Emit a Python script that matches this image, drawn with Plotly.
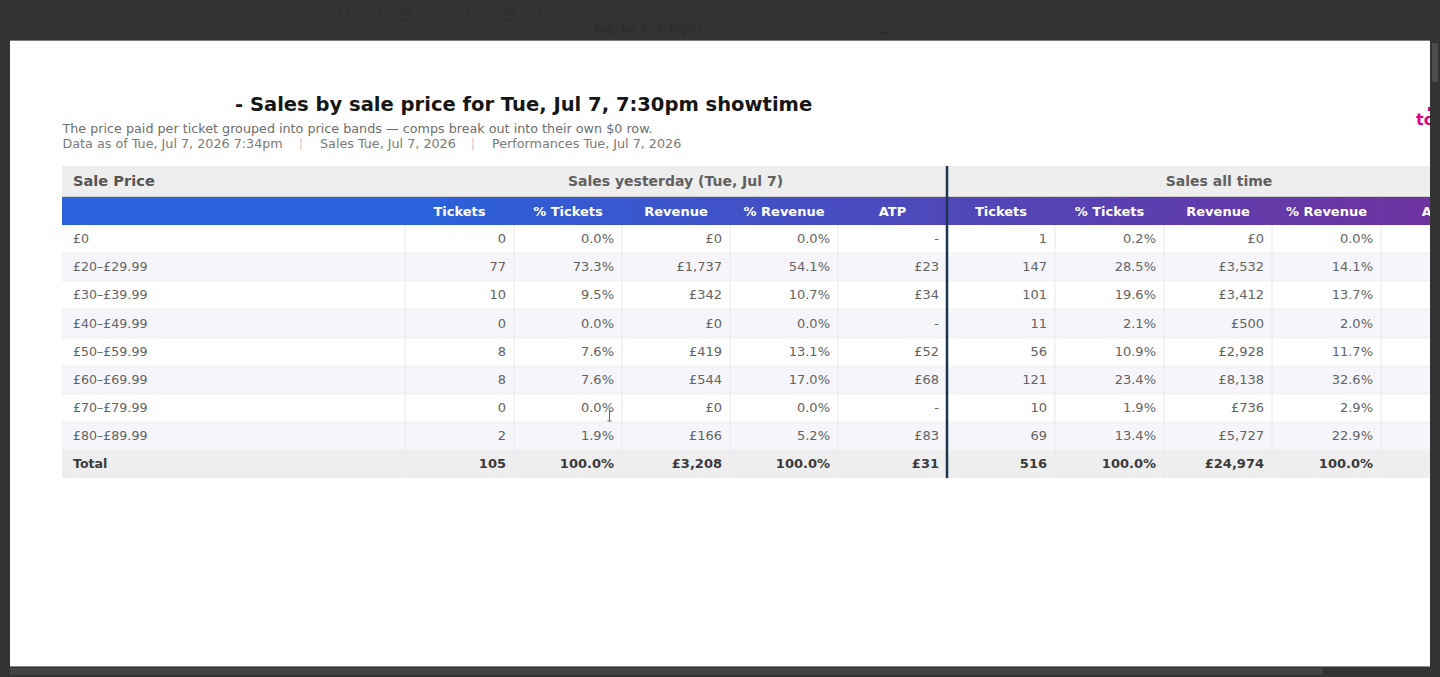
import plotly.graph_objects as go

price_bands = ["£0", "£20–£29.99", "£30–£39.99", "£40–£49.99", "£50–£59.99",
               "£60–£69.99", "£70–£79.99", "£80–£89.99", "Total"]
yest_tickets = ["0", "77", "10", "0", "8", "8", "0", "2", "105"]
yest_pct_tickets = ["0.0%", "73.3%", "9.5%", "0.0%", "7.6%", "7.6%", "0.0%", "1.9%", "100.0%"]
yest_revenue = ["£0", "£1,737", "£342", "£0", "£419", "£544", "£0", "£166", "£3,208"]
yest_pct_revenue = ["0.0%", "54.1%", "10.7%", "0.0%", "13.1%", "17.0%", "0.0%", "5.2%", "100.0%"]
yest_atp = ["-", "£23", "£34", "-", "£52", "£68", "-", "£83", "£31"]
all_tickets = ["1", "147", "101", "11", "56", "121", "10", "69", "516"]
all_pct_tickets = ["0.2%", "28.5%", "19.6%", "2.1%", "10.9%", "23.4%", "1.9%", "13.4%", "100.0%"]
all_revenue = ["£0", "£3,532", "£3,412", "£500", "£2,928", "£8,138", "£736", "£5,727", "£24,974"]
all_pct_revenue = ["0.0%", "14.1%", "13.7%", "2.0%", "11.7%", "32.6%", "2.9%", "22.9%", "100.0%"]
sub_headers = ["", "Tickets", "% Tickets", "Revenue", "% Revenue", "ATP",
               "Tickets", "% Tickets", "Revenue", "% Revenue", "ATP"]
value_columns = [yest_tickets, yest_pct_tickets, yest_revenue, yest_pct_revenue, yest_atp,
                 all_tickets, all_pct_tickets, all_revenue, all_pct_revenue]

title = "- Sales by sale price for Tue, Jul 7, 7:30pm showtime"
subtitle = "The price paid per ticket grouped into price bands — comps break out into their own $0 row."
meta_items = ["Data as of Tue, Jul 7, 2026 7:34pm", "Sales Tue, Jul 7, 2026", "Performances Tue, Jul 7, 2026"]

# page geometry, the axes run in screen pixels of the white panel
W, H = 1440, 677
PANEL = (10, 1430, 41, 666)
col_edges = [62, 405, 514, 622, 730, 838, 947, 1055, 1164, 1272, 1381, 1490]
row_edges = [225, 253, 281, 309, 338, 366, 394, 422, 450, 478]
col_mid = [(a + b) / 2 for a, b in zip(col_edges, col_edges[1:])]
row_mid = [(a + b) / 2 + 1 for a, b in zip(row_edges, row_edges[1:])]

FONT = "DejaVu Sans"
BG = "#333333"
TEXT = "#636363"

fig = go.Figure()


def add_text(x, y, text, pos, size, color, weight="normal"):
    fig.add_trace(go.Scatter(
        x=x, y=y, text=text, mode="text", textposition=pos, hoverinfo="skip",
        textfont=dict(family=FONT, size=size, color=color, weight=weight),
        showlegend=False, cliponaxis=True))


# grey band, striped rows and the total row
fig.add_trace(go.Heatmap(
    x=col_edges, y=[166, 196, 197, 225] + row_edges[1:],
    z=[[0] * 11, [1] * 11, [0] * 11] + [[2 if i % 2 else 1] * 11 for i in range(8)] + [[0] * 11],
    zmin=0, zmax=2, showscale=False, hoverinfo="skip",
    colorscale=[[0, "#eeeeee"], [0.5, "#ffffff"], [1, "#f6f6fa"]]))

# header gradient, flat over the label column and then running to the right
fig.add_trace(go.Heatmap(
    x=col_edges, y=[197, 211, 225], z=[col_mid, col_mid], zmin=405, zmax=1490,
    zsmooth="best", showscale=False, hoverinfo="skip",
    colorscale=[[0, "#2a62dc"], [0.5, "#4f47b9"], [1, "#72309c"]]))

shapes = []
# cell borders
for x in col_edges[1:-1]:
    if x != 947:
        shapes.append(dict(type="line", x0=x, x1=x, y0=225, y1=478, xref="x", yref="y",
                           line=dict(color="#e8e8ec", width=1)))
for y in row_edges[1:-1]:
    shapes.append(dict(type="line", x0=62, x1=1430, y0=y, y1=y, xref="x", yref="y",
                       line=dict(color="#efeff3", width=1)))
shapes.append(dict(type="line", x0=62, x1=1430, y0=196.5, y1=196.5, xref="x", yref="y",
                   line=dict(color="#cfcfcf", width=1)))
shapes.append(dict(type="line", x0=947, x1=947, y0=166, y1=478, xref="x", yref="y",
                   line=dict(color="#1e3550", width=2.5)))
# text cursor left in the screenshot
shapes.append(dict(type="line", x0=609.5, x1=609.5, y0=410, y1=421, xref="x", yref="y",
                   line=dict(color="#666666", width=1)))
shapes.append(dict(type="line", x0=607.5, x1=611.5, y0=421, y1=421, xref="x", yref="y",
                   line=dict(color="#666666", width=1)))
# clipped logo dot
shapes.append(dict(type="rect", x0=1428, x1=1431, y0=107, y1=111, xref="x", yref="y",
                   line=dict(width=0), fillcolor="#e0007f"))


def px(x):
    return x / W


def py(y):
    return 1 - y / H


# scrollbars around the panel
shapes.append(dict(type="rect", xref="paper", yref="paper", x0=px(10), x1=px(1323), y0=py(675), y1=py(668),
                   line=dict(width=0), fillcolor="#434545"))
shapes.append(dict(type="rect", xref="paper", yref="paper", x0=px(1432), x1=px(1438), y0=py(82), y1=py(43),
                   line=dict(width=0), fillcolor="#4b4e4d"))
# dim toolbar behind the modal
for x in [344, 377, 405, 442, 471, 509, 537]:
    shapes.append(dict(type="rect", xref="paper", yref="paper", x0=px(x - 4), x1=px(x + 4), y0=py(20), y1=py(11),
                       line=dict(color="#2d2d2d", width=1), fillcolor="rgba(0,0,0,0)"))
shapes.append(dict(type="line", xref="paper", yref="paper", x0=px(562), x1=px(562), y0=py(19), y1=py(12),
                   line=dict(color="#2d2d2d", width=1)))
for x in [330, 1098]:
    shapes.append(dict(type="line", xref="paper", yref="paper", x0=px(x), x1=px(x), y0=py(41), y1=1,
                       line=dict(color="#303030", width=1)))
shapes.append(dict(type="path", xref="paper", yref="paper",
                   path=f"M {px(876)} {py(30)} Q {px(883)} {py(37)} {px(890)} {py(30)}",
                   line=dict(color="#262626", width=1)))
# panel edge
shapes.append(dict(type="line", xref="paper", yref="paper", x0=px(10), x1=px(1430), y0=py(40.5), y1=py(40.5),
                   line=dict(color="#7a7a7a", width=1)))
shapes.append(dict(type="line", xref="paper", yref="paper", x0=px(10), x1=px(1430), y0=py(666.5), y1=py(666.5),
                   line=dict(color="#8a8a8a", width=1)))

# headline block
add_text([235], [106], [title], "middle right", 19.55, "#161616", "bold")
add_text([62.5], [130], [subtitle], "middle right", 12.74, "#6e6e6e")
add_text([62.5, 320, 492], [145, 145, 145], meta_items, "middle right", 12.74, "#7a7a7a")
add_text([301, 473], [145, 145], ["|", "|"], "middle center", 12.74, "#c8c8c8")
add_text([1416], [121], ["to"], "middle right", 16, "#e0007f", "bold")

# group header row
add_text([73], [182], ["Sale Price"], "middle right", 14.6, "#555555", "bold")
add_text([675.5, 1219], [182, 182], ["Sales yesterday (Tue, Jul 7)", "Sales all time"],
         "middle center", 14, "#606060", "bold")

# blue header labels
add_text(col_mid[1:], [212.5] * 10, sub_headers[1:], "middle center", 13, "#ffffff", "bold")

# body
add_text([73] * 8, row_mid[:8], price_bands[:8], "middle right", 12.6, TEXT)
add_text([73], row_mid[8:], price_bands[8:], "middle right", 12.6, "#3a3a3a", "bold")
for i, values in enumerate(value_columns):
    right = col_edges[i + 2] - 8
    add_text([right] * 8, row_mid[:8], values[:8], "middle left", 13, TEXT)
    add_text([right], row_mid[8:], values[8:], "middle left", 13, "#3a3a3a", "bold")

fig.update_layout(
    width=W, height=H, margin=dict(l=0, r=0, t=0, b=0),
    paper_bgcolor=BG, plot_bgcolor="#ffffff", showlegend=False,
    shapes=shapes,
    annotations=[dict(text="Tue, Jul 7, 7:30pm", x=px(646), y=py(29), xref="paper", yref="paper",
                      yanchor="middle", showarrow=False,
                      font=dict(family=FONT, size=12, color="#2b2b2b"))],
    xaxis=dict(range=[PANEL[0], PANEL[1]], domain=[px(PANEL[0]), px(PANEL[1])], visible=False, fixedrange=True),
    yaxis=dict(range=[PANEL[3], PANEL[2]], domain=[py(PANEL[3]), py(PANEL[2])], visible=False, fixedrange=True),
)

fig.write_html("out.html", config=dict(displayModeBar=False),
               post_script="document.body.style.margin='0';document.body.style.overflow='hidden';")
